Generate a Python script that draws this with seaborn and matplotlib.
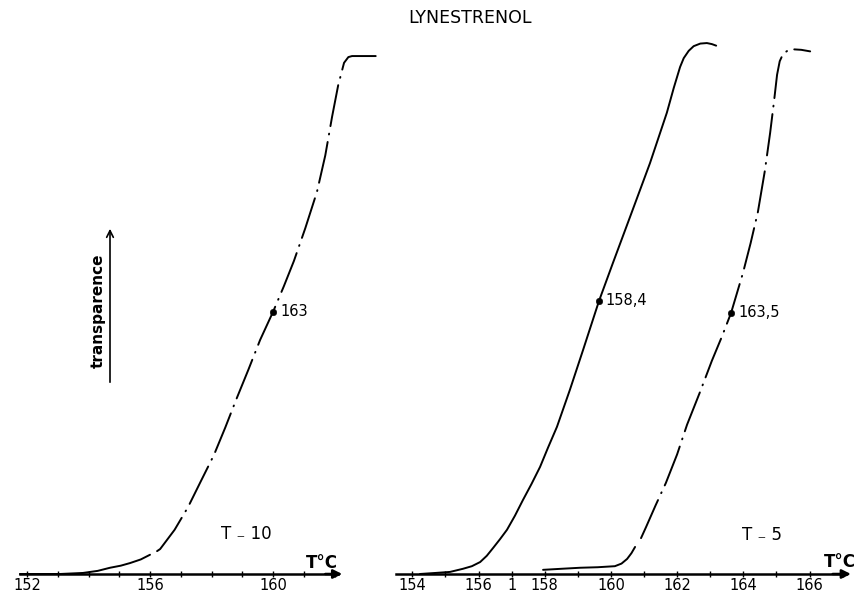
import pandas as pd
import matplotlib
matplotlib.use("Agg")
import matplotlib.pyplot as plt
import seaborn as sns

# Valeurs (T en degres C, transparence en unites arbitraires)
# Panneau gauche : T-10
t10_solid_T = [151.77, 153.07, 153.82, 154.30, 154.70, 155.05, 155.35, 155.70, 156.00]
t10_solid_Y = [0.0, 0.0, 0.2, 0.6, 1.2, 1.6, 2.1, 2.8, 3.7]
t10_dash_T = [156.23, 156.33, 156.80, 157.24, 157.65, 158.08, 158.45, 158.80,
              159.20, 159.58, 160.00, 160.35, 160.68, 161.05, 161.43, 161.70,
              161.92, 162.12, 162.31, 162.45, 162.57, 163.58]
t10_dash_Y = [4.4, 4.8, 8.5, 12.9, 17.8, 22.9, 28.2, 33.5,
              39.3, 45.0, 50.4, 55.3, 60.2, 66.5, 73.5, 80.5,
              87.9, 94.0, 98.3, 99.4, 99.6, 99.6]
t10_point = (160.00, 50.4, "163")

# Panneau droit : T-5, courbe pleine
t5a_T = [154.23, 154.70, 155.14, 155.53, 155.80, 156.05, 156.25, 156.44,
         156.65, 156.86, 157.10, 157.34, 157.60, 157.86, 158.10, 158.37,
         158.76, 159.16, 159.64, 160.06, 160.58, 161.18, 161.69, 161.90,
         162.09, 162.20, 162.35, 162.50, 162.70, 162.90, 163.05, 163.18]
t5a_Y = [0.0, 0.2, 0.4, 1.0, 1.5, 2.3, 3.5, 5.0,
         6.7, 8.5, 11.2, 14.2, 17.3, 20.6, 24.3, 28.3,
         35.4, 43.1, 52.5, 59.8, 68.7, 79.0, 88.7, 93.5,
         97.5, 99.2, 100.6, 101.5, 102.0, 102.1, 101.9, 101.6]
t5a_point = (159.64, 52.5, "158,4")

# Panneau droit : T-5, courbe mixte
t5b_solid_T = [157.95, 158.50, 159.07, 159.60, 160.12, 160.32, 160.49, 160.62, 160.73]
t5b_solid_Y = [0.8, 1.0, 1.2, 1.3, 1.5, 2.0, 2.9, 4.0, 5.2]
t5b_dash_T = [160.91, 161.06, 161.35, 161.66, 162.00, 162.30, 162.68, 163.05,
              163.35, 163.63, 163.99, 164.22, 164.44, 164.65, 164.81, 164.93,
              165.02, 165.10, 165.20, 165.35, 165.50, 165.75, 166.02]
t5b_dash_Y = [6.9, 9.0, 13.2, 17.5, 23.0, 28.7, 34.8, 41.0,
              45.6, 50.2, 57.9, 63.6, 69.6, 77.5, 84.8, 91.0,
              96.0, 98.6, 100.0, 100.7, 100.9, 100.8, 100.5]
t5b_point = (163.63, 50.2, "163,5")

left_ticks = [152, 156, 160]
left_tick_labels = ["152", "156", "160"]
right_ticks = [154, 156, 157, 158, 160, 162, 164, 166]
right_tick_labels = ["154", "156", "1", "158", "160", "162", "164", "166"]

sns.set_theme(style="white", rc={"text.color": "black"})
plt.rcParams["font.family"] = ["DejaVu Sans"]
plt.rcParams["lines.scale_dashes"] = False

DASHDOT = (0, (30, 5.5, 0.6, 5.5))
W, H = 862, 595

fig = plt.figure(figsize=(W / 100, H / 100), dpi=100)
ax_l = fig.add_axes([0, 0, 395 / W, 1])
ax_r = fig.add_axes([400 / W, 0, 462 / W, 1])


def courbe(ax, T, Y, dash=False):
    df = pd.DataFrame({"T": T, "Y": Y})
    kw = dict(color="black", linewidth=1.4, estimator=None, sort=False,
              legend=False)
    if dash:
        kw["linestyle"] = DASHDOT
        kw["dash_capstyle"] = "round"
    sns.lineplot(data=df, x="T", y="Y", ax=ax, **kw)


def point(ax, p):
    sns.scatterplot(x=[p[0]], y=[p[1]], ax=ax, color="black", s=22,
                    edgecolor="black", legend=False, zorder=5)
    ax.annotate(p[2], (p[0], p[1]), xytext=(5, 0), textcoords="offset points",
                va="center", ha="left", fontsize=10.5, color="black")


def axe(ax, xlim, start, end, ticks, labels):
    ax.set_xlim(*xlim)
    ax.set_ylim(-4.04, 110.38)
    ax.patch.set_alpha(0)
    for s in ["top", "left", "right"]:
        ax.spines[s].set_visible(False)
    sp = ax.spines["bottom"]
    sp.set_position(("data", 0))
    sp.set_bounds(start, end)
    sp.set_linewidth(1.8)
    sp.set_color("black")
    ax.set_yticks([])
    ax.set_xticks(ticks)
    ax.set_xticklabels(labels)
    ax.set_xticks(range(int(start) + 1, int(end) + 1), minor=True)
    ax.tick_params(axis="x", which="both", direction="inout", length=4,
                   width=1.0, color="black", bottom=True, pad=1,
                   labelsize=10.5, labelcolor="black")
    ax.set_xlabel("")
    ax.set_ylabel("")
    ax.annotate("", xy=(end + 0.15, 0), xytext=(end - 0.4, 0),
                arrowprops=dict(arrowstyle="-|>", color="black", lw=1.8,
                                mutation_scale=13, shrinkA=0, shrinkB=0),
                annotation_clip=False)


# panneau gauche
courbe(ax_l, t10_solid_T, t10_solid_Y)
courbe(ax_l, t10_dash_T, t10_dash_Y, dash=True)
point(ax_l, t10_point)
axe(ax_l, (151.122, 163.967), 151.77, 162.1, left_ticks, left_tick_labels)

# panneau droit
courbe(ax_r, t5a_T, t5a_Y)
courbe(ax_r, t5b_solid_T, t5b_solid_Y)
courbe(ax_r, t5b_dash_T, t5b_dash_Y, dash=True)
point(ax_r, t5a_point)
point(ax_r, t5b_point)
axe(ax_r, (153.628, 167.586), 153.5, 167.1, right_ticks, right_tick_labels)

# textes
fig.text(470 / W, 1 - 18 / H, "LYNESTRENOL", ha="center", va="center",
         fontsize=12.5, color="black")
fig.text(98 / W, 1 - 311 / H, "transparence", rotation=90, ha="center",
         va="center", fontsize=11, fontweight="bold", color="black")
fig.add_artist(matplotlib.patches.FancyArrowPatch(
    (110 / W, 1 - 385 / H), (110 / W, 1 - 226 / H),
    transform=fig.transFigure, arrowstyle="->", mutation_scale=12,
    color="black", lw=1.2))
fig.text(322 / W, 1 - 563 / H, "T°C", ha="center", va="center",
         fontsize=12, fontweight="bold", color="black")
fig.text(840 / W, 1 - 562 / H, "T°C", ha="center", va="center",
         fontsize=12, fontweight="bold", color="black")
fig.text(246 / W, 1 - 534 / H, "T ₋ 10", ha="center", va="center",
         fontsize=12, color="black")
fig.text(762 / W, 1 - 535 / H, "T ₋ 5", ha="center", va="center",
         fontsize=12, color="black")

fig.savefig("out.png", dpi=100)
